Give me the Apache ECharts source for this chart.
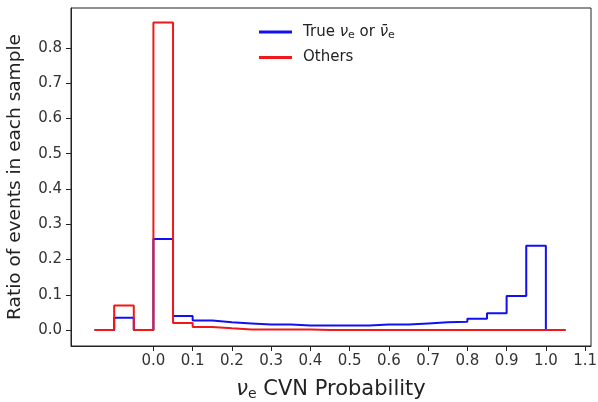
<!DOCTYPE html>
<html>
<head>
<meta charset="utf-8">
<script src="https://cdn.jsdelivr.net/npm/echarts@6/dist/echarts.min.js"></script>
<style>
  html, body { margin: 0; padding: 0; background: #fff; }
  #chart { width: 598px; height: 402px; }
</style>
</head>
<body>
<div id="chart"></div>
<script>
// bin left edges (width 0.05), the last one closes the histogram
const binEdges = [-0.15, -0.1, -0.05, 0, 0.05, 0.1, 0.15, 0.2, 0.25, 0.3, 0.35, 0.4,
  0.45, 0.5, 0.55, 0.6, 0.65, 0.7, 0.75, 0.8, 0.85, 0.9, 0.95, 1.0, 1.05];
// ratio per bin
const trueNue = [0, 0.035, 0, 0.258, 0.040, 0.027, 0.022, 0.019, 0.016, 0.016, 0.013, 0.013,
  0.013, 0.013, 0.016, 0.016, 0.019, 0.022, 0.024, 0.032, 0.048, 0.097, 0.239, 0];
const others = [0, 0.070, 0, 0.872, 0.020, 0.009, 0.005, 0.002, 0.002, 0.002, 0.002, 0,
  0, 0, 0, 0, 0, 0, 0, 0, 0, 0, 0, 0];
const xTicks = [0, 0.1, 0.2, 0.3, 0.4, 0.5, 0.6, 0.7, 0.8, 0.9, 1.0, 1.1];
const yTicks = [0, 0.1, 0.2, 0.3, 0.4, 0.5, 0.6, 0.7, 0.8];

// histogram outline points for a step line
function stepData(vals) {
  const pts = vals.map((v, i) => [binEdges[i], v]);
  pts.push([binEdges[binEdges.length - 1], vals[vals.length - 1]]);
  return pts;
}

const font = "DejaVu Sans";
const chart = echarts.init(document.getElementById("chart"));
chart.setOption({
  animation: false,
  textStyle: { fontFamily: font },
  grid: {
    left: 71, right: 7, top: 8, bottom: 56,
    outerBoundsMode: "none",
    containLabel: false,
    show: true, borderColor: "#222", borderWidth: 1,
  },
  legend: {
    orient: "vertical",
    left: 254,
    top: 19,
    itemWidth: 33,
    itemHeight: 3,
    itemGap: 9,
    icon: "rect",
    data: ["True", "Others"],
    formatter: function (name) {
      if (name === "True") return "{a|True }{i|ν}{s|e}{a| or }{i|ν̄}{s|e}";
      return "{a|Others}";
    },
    textStyle: {
      color: "#222",
      fontSize: 15,
      fontFamily: font,
      padding: [0, 0, 0, 6],
      rich: {
        a: { fontSize: 15, color: "#222", fontFamily: font, lineHeight: 18 },
        i: { fontSize: 15, color: "#222", fontFamily: font, fontStyle: "italic", lineHeight: 18 },
        s: { fontSize: 11, color: "#222", fontFamily: font, verticalAlign: "bottom", lineHeight: 12, padding: [6, 0, 0, 0] },
      },
    },
  },
  xAxis: {
    type: "value",
    min: -0.21,
    max: 1.115,
    name: "{i|ν}{s|e}{a| CVN Probability}",
    nameLocation: "middle",
    nameGap: 32,
    nameTextStyle: {
      rich: {
        a: { fontSize: 21, color: "#222", fontFamily: font },
        i: { fontSize: 21, color: "#222", fontFamily: font, fontStyle: "italic" },
        s: { fontSize: 14, color: "#222", fontFamily: font, verticalAlign: "bottom", padding: [9, 0, 0, 0] },
      },
    },
    splitLine: { show: false },
    axisLine: { show: true, onZero: false, lineStyle: { color: "#222" } },
    axisTick: { show: true, length: 5, customValues: xTicks, lineStyle: { color: "#222" } },
    axisLabel: {
      customValues: xTicks,
      color: "#333",
      fontSize: 15,
      margin: 8,
      formatter: (v) => v.toFixed(1),
    },
  },
  yAxis: {
    type: "value",
    min: -0.045,
    max: 0.913,
    name: "Ratio of events in each sample",
    nameLocation: "middle",
    nameGap: 46,
    nameTextStyle: { fontSize: 18.5, color: "#222", fontFamily: font },
    splitLine: { show: false },
    axisLine: { show: true, onZero: false, lineStyle: { color: "#222" } },
    axisTick: { show: true, length: 5, customValues: yTicks, lineStyle: { color: "#222" } },
    axisLabel: {
      customValues: yTicks,
      color: "#333",
      fontSize: 15,
      margin: 9,
      formatter: (v) => v.toFixed(1),
    },
  },
  series: [
    {
      name: "True",
      type: "line",
      step: "end",
      symbol: "none",
      color: "#1010f0",
      lineStyle: { width: 2, color: "#1010f0" },
      data: stepData(trueNue),
    },
    {
      name: "Others",
      type: "line",
      step: "end",
      symbol: "none",
      color: "#f01818",
      lineStyle: { width: 2, color: "#f01818" },
      data: stepData(others),
    },
  ],
});
</script>
</body>
</html>
